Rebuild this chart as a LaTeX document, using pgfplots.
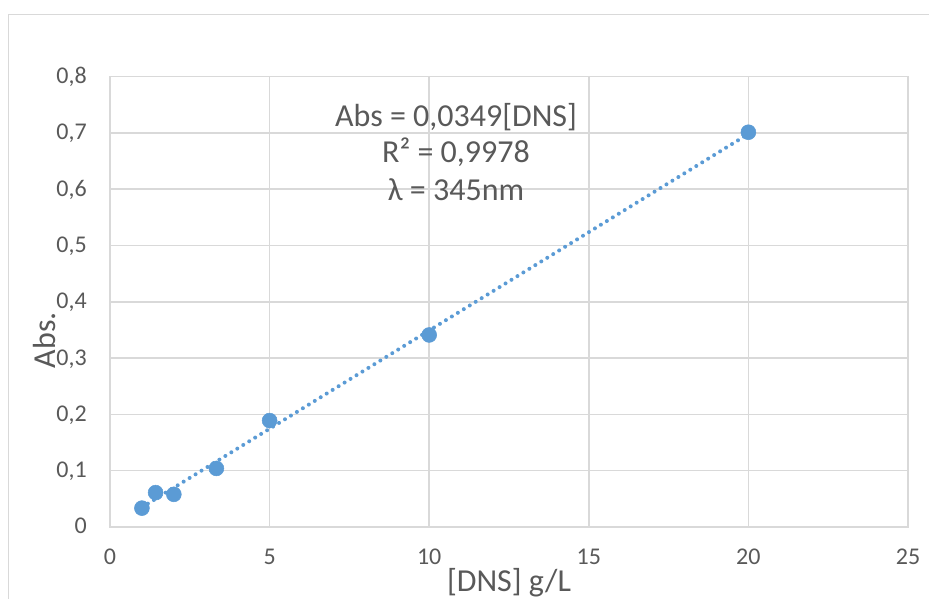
\documentclass[border=0pt]{standalone}
\usepackage{pgfplots}
\pgfplotsset{compat=1.18}
\usepackage{fontspec}
\setmainfont{Carlito}
\definecolor{gridgray}{HTML}{D9D9D9}
\definecolor{txtgray}{HTML}{595959}
\definecolor{ptblue}{HTML}{5B9BD5}
\begin{document}
\begin{tikzpicture}
\path[use as bounding box] (0,0) rectangle (696.75pt,449.25pt);
\draw[gridgray, line width=1.1pt] (6.2pt,0pt) -- (6.2pt,438.2pt) -- (696.75pt,438.2pt);
\begin{axis}[
  at={(82.5pt,54pt)}, anchor=south west,
  scale only axis,
  width=598.5pt, height=337.9pt,
  xmin=0, xmax=25, ymin=0, ymax=0.8,
  xtick={0,5,10,15,20,25},
  ytick={0,0.1,0.2,0.3,0.4,0.5,0.6,0.7,0.8},
  major tick length=0pt,
  grid=major,
  grid style={gridgray, line width=1.2pt},
  axis line style={gridgray, line width=1.2pt},
  tick label style={font=\fontsize{18}{21}\selectfont, text=txtgray},
  /pgf/number format/assume math mode=true,
  /pgf/number format/use comma,
  yticklabel style={/pgf/number format/fixed, /pgf/number format/precision=1, inner sep=0pt, anchor=base east, xshift=-17.25pt, yshift=-5.25pt},
  xticklabel style={inner sep=0pt, anchor=north, yshift=-16.5pt},
  xlabel={[DNS] g/L},
  ylabel={Abs.},
  label style={font=\fontsize{24}{28}\selectfont, text=txtgray},
  xlabel style={at={(rel axis cs:0.5,-0.144)}, anchor=base, inner sep=0pt},
  ylabel style={at={(rel axis cs:-0.0689,0.4146)}, anchor=base, rotate=0, inner sep=0pt},
  clip=false,
]
\addplot[ptblue, line width=3pt, line cap=round, dash pattern=on 0pt off 5.25pt, forget plot] coordinates {(1,0.0349) (20,0.698)};
\addplot[only marks, mark=*, mark size=5.6pt, ptblue, mark options={fill=ptblue, draw=ptblue}] coordinates {
(1,0.0335) (1.4286,0.061) (2,0.058) (3.333,0.104) (5,0.189) (10,0.341) (20,0.701)};
\node[anchor=base, font=\fontsize{24}{28}\selectfont, text=txtgray, inner sep=0pt] at (axis cs:10.84,0.7115) {Abs = 0,0349[DNS]};
\node[anchor=base, font=\fontsize{24}{28}\selectfont, text=txtgray, inner sep=0pt] at (axis cs:10.84,0.6478) {R² = 0,9978};
\node[anchor=base, font=\fontsize{24}{28}\selectfont, text=txtgray, inner sep=0pt] at (axis cs:10.84,0.5805) {λ = 345nm};
\end{axis}
\end{tikzpicture}
\end{document}
